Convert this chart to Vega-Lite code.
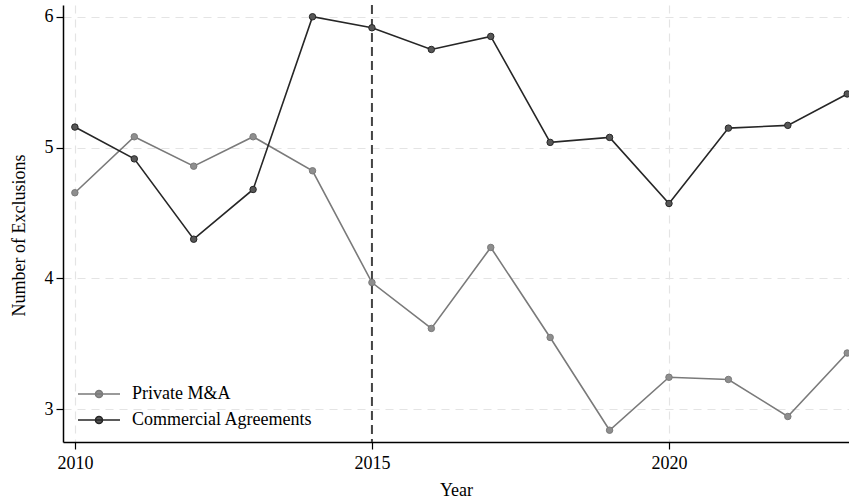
{
  "$schema": "https://vega.github.io/schema/vega-lite/v6.json",
  "autosize": "none",
  "width": 786,
  "height": 437,
  "padding": {"left": 63, "top": 5, "right": 0, "bottom": 57},
  "background": "white",
  "config": {
    "view": {"stroke": null},
    "font": "Liberation Serif",
    "axis": {
      "labelFont": "Liberation Serif",
      "titleFont": "Liberation Serif",
      "labelFontSize": 18,
      "titleFontSize": 18,
      "titleFontWeight": "normal",
      "labelColor": "#000",
      "titleColor": "#000",
      "domainColor": "#000",
      "domainWidth": 1.5,
      "tickColor": "#000",
      "tickWidth": 1.2,
      "tickSize": 7,
      "grid": true,
      "gridColor": "#e4e4e4",
      "gridDash": [8, 6],
      "gridWidth": 1.2
    }
  },
  "datasets": {
    "exclusions": [
      {"year": 2010, "series": "Private M&A", "value": 4.655},
      {"year": 2011, "series": "Private M&A", "value": 5.083},
      {"year": 2012, "series": "Private M&A", "value": 4.858},
      {"year": 2013, "series": "Private M&A", "value": 5.083},
      {"year": 2014, "series": "Private M&A", "value": 4.823},
      {"year": 2015, "series": "Private M&A", "value": 3.969},
      {"year": 2016, "series": "Private M&A", "value": 3.618},
      {"year": 2017, "series": "Private M&A", "value": 4.237},
      {"year": 2018, "series": "Private M&A", "value": 3.549},
      {"year": 2019, "series": "Private M&A", "value": 2.84},
      {"year": 2020, "series": "Private M&A", "value": 3.245},
      {"year": 2021, "series": "Private M&A", "value": 3.228},
      {"year": 2022, "series": "Private M&A", "value": 2.945},
      {"year": 2023, "series": "Private M&A", "value": 3.43},
      {"year": 2010, "series": "Commercial Agreements", "value": 5.157},
      {"year": 2011, "series": "Commercial Agreements", "value": 4.914},
      {"year": 2012, "series": "Commercial Agreements", "value": 4.3},
      {"year": 2013, "series": "Commercial Agreements", "value": 4.68},
      {"year": 2014, "series": "Commercial Agreements", "value": 6.0},
      {"year": 2015, "series": "Commercial Agreements", "value": 5.916},
      {"year": 2016, "series": "Commercial Agreements", "value": 5.75},
      {"year": 2017, "series": "Commercial Agreements", "value": 5.85},
      {"year": 2018, "series": "Commercial Agreements", "value": 5.04},
      {"year": 2019, "series": "Commercial Agreements", "value": 5.078},
      {"year": 2020, "series": "Commercial Agreements", "value": 4.573},
      {"year": 2021, "series": "Commercial Agreements", "value": 5.149},
      {"year": 2022, "series": "Commercial Agreements", "value": 5.17},
      {"year": 2023, "series": "Commercial Agreements", "value": 5.41}
    ],
    "cutoff": [{"year": 2015}]
  },
  "layer": [
    {
      "data": {"name": "cutoff"},
      "mark": {"type": "rule", "color": "#444444", "strokeWidth": 2, "strokeDash": [9, 5]},
      "encoding": {
        "x": {"field": "year", "type": "quantitative", "scale": {"domain": [2009.8, 2023.03], "nice": false, "zero": false}}
      }
    },
    {
      "data": {"name": "exclusions"},
      "mark": {"type": "line", "strokeWidth": 1.6},
      "encoding": {
        "x": {
          "field": "year", "type": "quantitative",
          "scale": {"domain": [2009.8, 2023.03], "nice": false, "zero": false},
          "axis": {"values": [2010, 2015, 2020], "format": "d", "title": "Year", "labelPadding": 5, "titlePadding": 9}
        },
        "y": {
          "field": "value", "type": "quantitative",
          "scale": {"domain": [2.75, 6.09], "nice": false, "zero": false},
          "axis": {"values": [3, 4, 5, 6], "format": "d", "title": "Number of Exclusions", "labelPadding": 3, "titleX": -35, "titleY": 230}
        },
        "stroke": {
          "field": "series", "type": "nominal",
          "scale": {"domain": ["Private M&A", "Commercial Agreements"], "range": ["#7a7a7a", "#262626"]},
          "legend": {
            "title": null,
            "orient": "none",
            "legendX": 25,
            "legendY": 378,
            "symbolType": "M-2.1,0L2.1,0M0.35,0A0.35,0.35,0,1,1,-0.35,0A0.35,0.35,0,1,1,0.35,0Z",
            "symbolSize": 400,
            "symbolStrokeWidth": 1.6,
            "labelFont": "Liberation Serif",
            "labelFontSize": 18,
            "labelColor": "#000",
            "labelLimit": 400,
            "labelOffset": 22,
            "rowPadding": 6,
            "encode": {
              "symbols": {"update": {"fill": {"scale": "fill", "field": "value"}}}
            }
          }
        },
        "order": {"field": "year"}
      }
    },
    {
      "data": {"name": "exclusions"},
      "mark": {"type": "point", "filled": true, "size": 42, "strokeWidth": 1, "opacity": 1},
      "encoding": {
        "x": {"field": "year", "type": "quantitative"},
        "y": {"field": "value", "type": "quantitative"},
        "fill": {
          "field": "series", "type": "nominal",
          "scale": {"domain": ["Private M&A", "Commercial Agreements"], "range": ["#8e8e8e", "#575757"]},
          "legend": null
        },
        "stroke": {"field": "series", "type": "nominal"}
      }
    }
  ]
}
